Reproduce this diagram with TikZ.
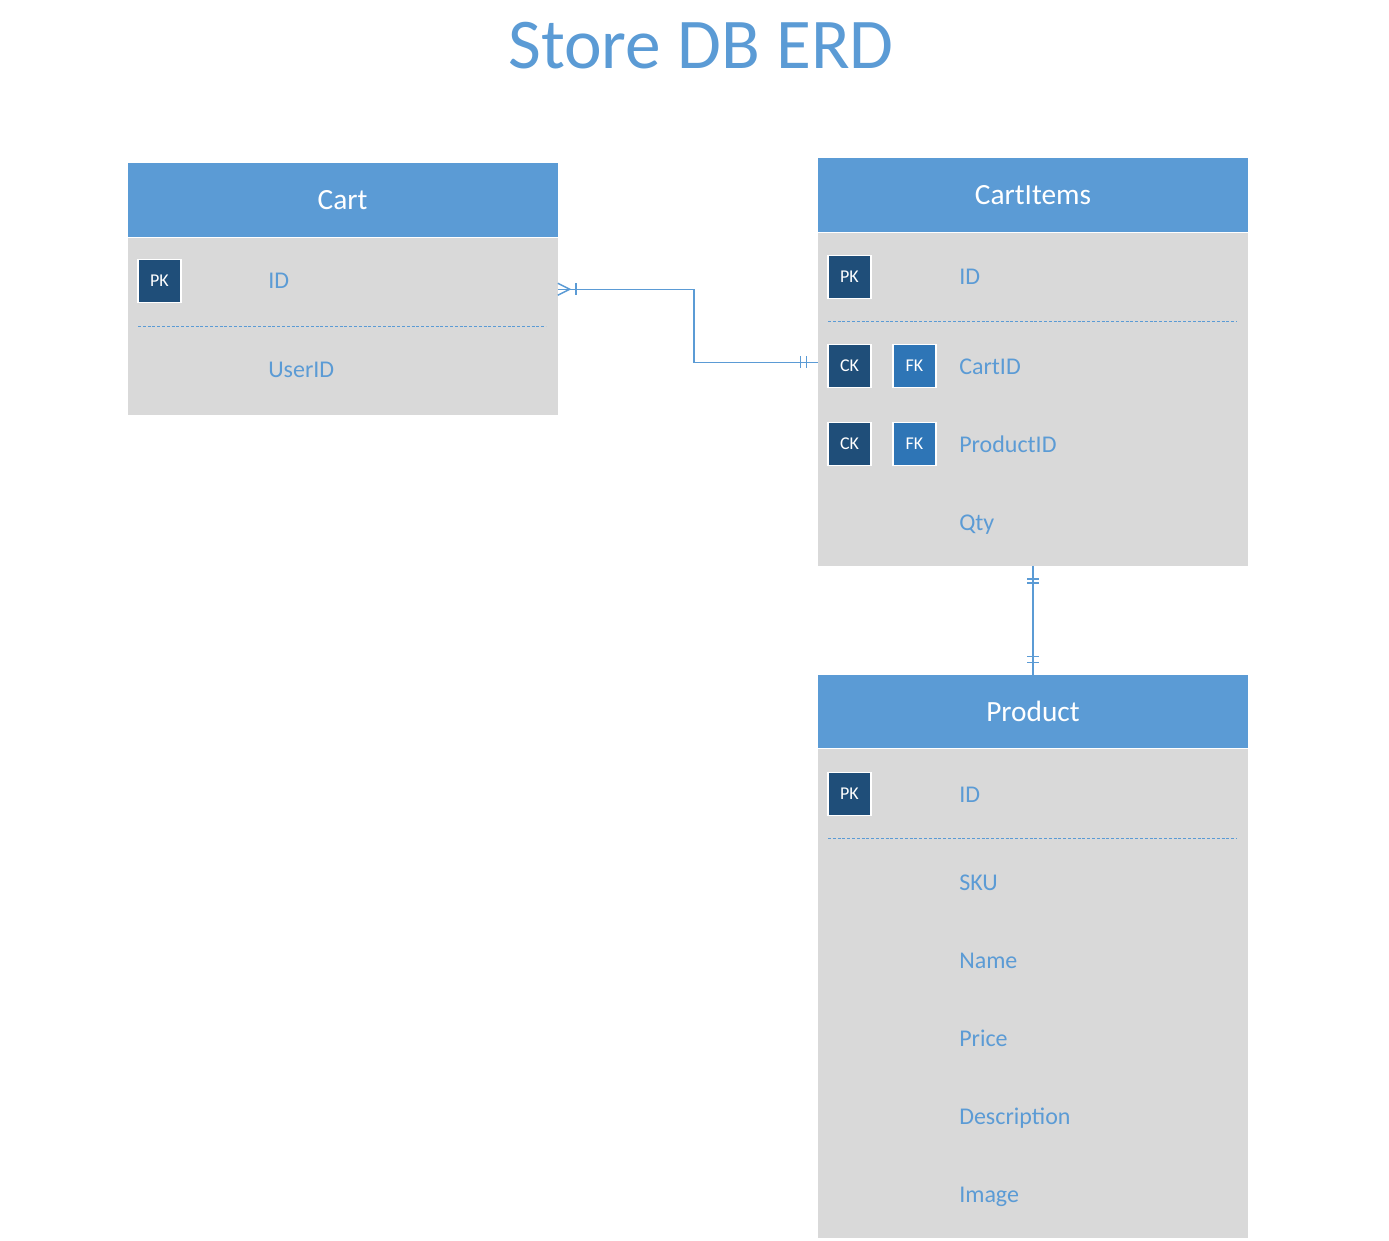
\documentclass[tikz,border=0pt]{standalone}
\usepackage{fontspec}
\setmainfont{Carlito}
\usetikzlibrary{positioning}
\definecolor{erdblue}{HTML}{5B9BD5}
\definecolor{erdgray}{HTML}{D9D9D9}
\definecolor{pkblue}{HTML}{1F4E79}
\definecolor{fkblue}{HTML}{2E75B6}
\tikzset{
  tablehead/.style={fill=erdblue, text=white, inner sep=0, minimum width=430*0.75pt, minimum height=74*0.75pt, font=\fontsize{22}{26}\selectfont},
  tablebody/.style={fill=erdgray, inner sep=0, minimum width=430*0.75pt},
  keybox/.style={draw=white, line width=0.8pt, fill=pkblue, text=white, inner sep=0, minimum size=43*0.75pt, font=\fontsize{13.5}{15}\selectfont},
  fkbox/.style={keybox, fill=fkblue},
  field/.style={anchor=base west, inner sep=0, text=erdblue, font=\fontsize{18}{22}\selectfont},
  sepline/.style={draw=erdblue, line width=0.7pt, dash pattern=on 2.2pt off 1.4pt},
  rel/.style={draw=erdblue, line width=1.1pt}
}
\begin{document}
\begin{tikzpicture}[x=0.75pt,y=-0.75pt]
\useasboundingbox[fill=white] (0,0) rectangle (1389,1241);

% Title
\node (title) [anchor=base, text=erdblue, inner sep=0, font=\fontsize{53.5}{60}\selectfont] at (701,69) {Store DB ERD};

% Table: Cart
\node (cartHead) [tablehead] at (342.5,200) {Cart};
\node (cartBody) [tablebody, minimum height=177*0.75pt, below=0pt of cartHead] {};
\node (cartPK) [keybox] at (159.5,281) {PK};
\draw [sepline] (138,326) -- (546,326);
\node (cartID) [field] at (268,289) {ID};
\node (cartUser) [field] at (268,378) {UserID};

% Table: CartItems
\node (itemsHead) [tablehead] at (1033,195) {CartItems};
\node (itemsBody) [tablebody, minimum height=333*0.75pt, below=0pt of itemsHead] {};
\node (itemsPK) [keybox] at (849.5,277) {PK};
\draw [sepline] (828,321) -- (1237,321);
\node (itemsCK1) [keybox] at (849.5,366) {CK};
\node (itemsFK1) [fkbox] at (914.5,366) {FK};
\node (itemsCK2) [keybox] at (849.5,444) {CK};
\node (itemsFK2) [fkbox] at (914.5,444) {FK};
\node (itemsID) [field] at (959,285) {ID};
\node (itemsCart) [field] at (959,374) {CartID};
\node (itemsProd) [field] at (959,452) {ProductID};
\node (itemsQty) [field] at (959,530) {Qty};

% Table: Product
\node (prodHead) [tablehead, minimum height=73*0.75pt] at (1033,711.5) {Product};
\node (prodBody) [tablebody, minimum height=489*0.75pt, below=0pt of prodHead] {};
\node (prodPK) [keybox] at (849.5,794) {PK};
\draw [sepline] (828,838) -- (1237,838);
\node (prodID) [field] at (959,802) {ID};
\foreach \name/\y in {SKU/890, Name/968, Price/1046, Description/1124, Image/1202}
  \node (prod\name) [field] at (959,\y) {\name};

% Cart -- CartItems (one to many)
\coordinate (cartEnd) at ([yshift=-52*0.75pt]cartBody.north east);
\coordinate (itemsEnd) at ([yshift=-130*0.75pt]itemsBody.north west);
\draw [rel] (cartEnd) -- ++(136,0) |- (itemsEnd);
\draw [rel] (cartEnd) ++(0,-6) -- ++(12,6) -- ++(-12,6);
\draw [rel] (cartEnd) ++(18,-6) -- ++(0,12);
\draw [rel] (itemsEnd) ++(-17,-6) -- ++(0,12);
\draw [rel] (itemsEnd) ++(-11,-6) -- ++(0,12);

% CartItems -- Product (one to one)
\draw [rel] (itemsBody.south) -- (prodHead.north);
\draw [rel] (itemsBody.south) ++(-6,13) -- ++(12,0);
\draw [rel] (itemsBody.south) ++(-6,17) -- ++(12,0);
\draw [rel] (prodHead.north) ++(-6,-18) -- ++(12,0);
\draw [rel] (prodHead.north) ++(-6,-12) -- ++(12,0);

\end{tikzpicture}
\end{document}
